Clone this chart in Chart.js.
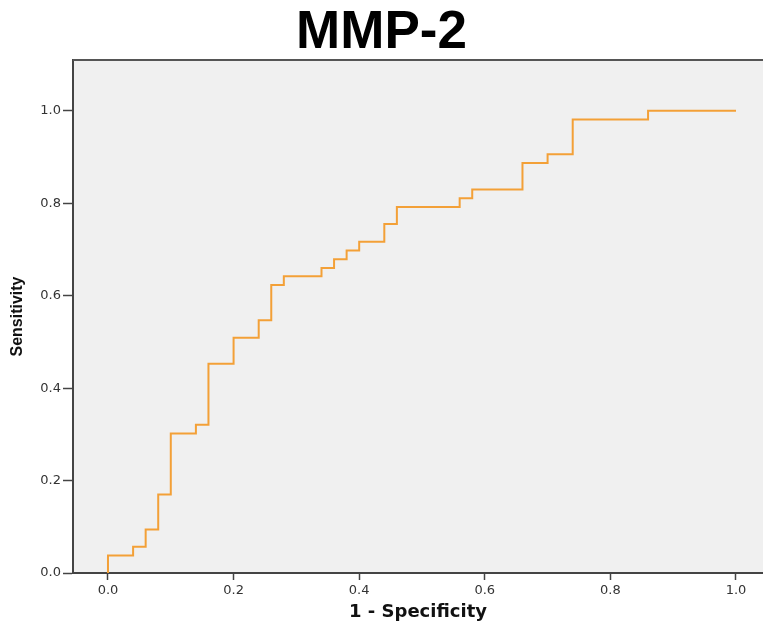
<!DOCTYPE html>
<html>

<head>
  <title>MMP-2 ROC curve</title>
  <script src="https://cdn.jsdelivr.net/npm/chart.js@4.4.1/dist/chart.umd.min.js"></script>
  <style>
    body { margin: 0; background: #fff; }
  </style>
</head>

<body>
  <canvas id="rocChart" width="763" height="623"></canvas>

  <script>
    // ROC corner points (1 - specificity, sensitivity)
    const fpr = [0, 0, 0.04, 0.06, 0.08, 0.10, 0.14, 0.16, 0.20, 0.24, 0.26, 0.28, 0.34,
      0.36, 0.38, 0.40, 0.44, 0.46, 0.56, 0.58, 0.66, 0.70, 0.74, 0.86, 1.0];
    const tpr = [0, 0.038, 0.057, 0.094, 0.170, 0.302, 0.321, 0.453, 0.509, 0.547, 0.623, 0.642, 0.660,
      0.679, 0.698, 0.717, 0.755, 0.792, 0.811, 0.830, 0.887, 0.906, 0.981, 1.0, 1.0];
    const xTicks = [0.0, 0.2, 0.4, 0.6, 0.8, 1.0];
    const yTicks = [0.0, 0.2, 0.4, 0.6, 0.8, 1.0];

    const axisColor = '#444';
    const tickFont = { family: 'DejaVu Sans, sans-serif', size: 13 };

    // grey plot area plus the thin frame line on top
    const plotBg = {
      id: 'plotBg',
      beforeDraw(chart) {
        const { ctx, chartArea: a } = chart;
        ctx.save();
        ctx.fillStyle = '#fff';
        ctx.fillRect(0, 0, chart.width, chart.height);
        ctx.fillStyle = '#f0f0f0';
        ctx.fillRect(a.left, a.top, a.right - a.left, a.bottom - a.top);
        ctx.restore();
      },
      afterDraw(chart) {
        const { ctx, chartArea: a } = chart;
        ctx.save();
        ctx.strokeStyle = '#555';
        ctx.lineWidth = 2;
        ctx.beginPath();
        ctx.moveTo(a.left, a.top);
        ctx.lineTo(a.right, a.top);
        ctx.stroke();
        ctx.restore();
      }
    };

    const ctx = document.getElementById('rocChart').getContext('2d');
    new Chart(ctx, {
      type: 'scatter',
      data: {
        datasets: [{
          data: fpr.map((x, i) => ({ x: x, y: tpr[i] })),
          showLine: true,
          stepped: 'before',
          borderColor: 'rgb(243,160,55)',
          borderWidth: 2,
          pointRadius: 0,
          fill: false,
        }],
      },
      options: {
        responsive: false,
        animation: false,
        layout: { padding: 0 },
        plugins: {
          legend: { display: false },
          tooltip: { enabled: false },
          title: {
            display: true,
            text: 'MMP-2',
            color: '#000',
            font: { family: 'Liberation Sans, Arial, sans-serif', size: 53, weight: 'bold', lineHeight: 1 },
            padding: { top: 7, bottom: 0 },
          },
        },
        scales: {
          x: {
            type: 'linear',
            min: -0.0557,
            max: 1.043,
            afterBuildTicks: (s) => { s.ticks = xTicks.map(v => ({ value: v })); },
            afterFit: (s) => { s.height = 50; },
            grid: { drawOnChartArea: false, drawTicks: true, tickLength: 7, tickWidth: 1.5, tickColor: axisColor },
            border: { color: axisColor, width: 2 },
            ticks: { color: '#333', font: tickFont, padding: 3, maxRotation: 0, callback: (v) => v.toFixed(1) },
            title: {
              display: true,
              text: '1 - Specificity',
              color: '#111',
              font: { family: 'DejaVu Sans, sans-serif', size: 18, weight: 'bold', lineHeight: 1 },
              padding: { top: 0, bottom: 2 },
            },
          },
          y: {
            type: 'linear',
            min: 0,
            max: 1.11,
            afterBuildTicks: (s) => { s.ticks = yTicks.map(v => ({ value: v })); },
            afterFit: (s) => { s.width = 73; },
            grid: { drawOnChartArea: false, drawTicks: true, tickLength: 10, tickWidth: 1.5, tickColor: axisColor },
            border: { color: axisColor, width: 2 },
            ticks: { color: '#333', font: tickFont, padding: 2, callback: (v) => v.toFixed(1) },
            title: {
              display: true,
              text: 'Sensitivity',
              color: '#111',
              font: { family: 'Liberation Sans, Arial, sans-serif', size: 16, weight: 'bold', lineHeight: 1 },
              padding: { top: 10, bottom: 0 },
            },
          },
        },
      },
      plugins: [plotBg],
    });
  </script>
</body>

</html>
